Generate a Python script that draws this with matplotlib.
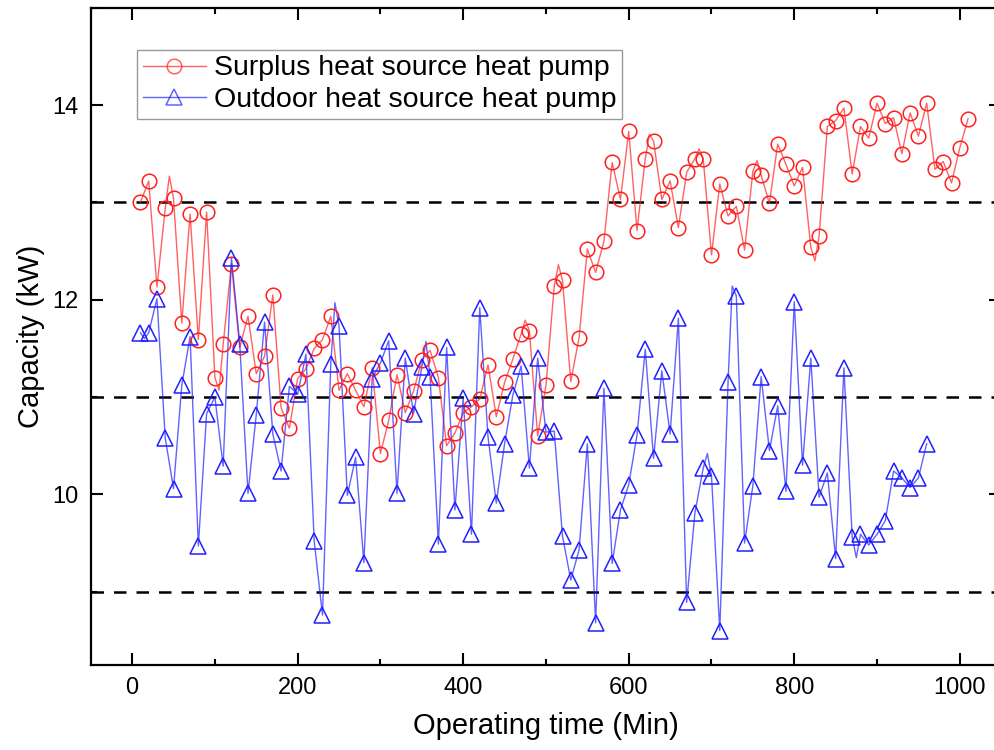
import matplotlib
matplotlib.use("Agg")
import matplotlib.pyplot as plt
from matplotlib.ticker import MultipleLocator

plt.rcParams['font.family'] = ['Liberation Sans', 'DejaVu Sans']

# ---- data ----
surplus_t = list(range(10, 1011, 10))
surplus_v = [13.00, 13.22, 12.13, 12.94, 13.04, 11.76, 12.88, 11.59, 12.90, 11.20,
             11.54, 12.37, 11.51, 11.83, 11.24, 11.42, 12.05, 10.89, 10.68, 11.19,
             11.29, 11.50, 11.59, 11.83, 11.07, 11.24, 11.07, 10.90, 11.30, 10.42,
             10.76, 11.23, 10.84, 11.06, 11.38, 11.48, 11.20, 10.50, 10.63, 10.84,
             10.90, 10.98, 11.33, 10.80, 11.15, 11.39, 11.65, 11.68, 10.60, 11.12,
             12.14, 12.20, 11.16, 11.61, 12.52, 12.28, 12.60, 13.41, 13.03, 13.73,
             12.71, 13.45, 13.63, 13.03, 13.22, 12.74, 13.31, 13.45, 13.45, 12.46,
             13.19, 12.86, 12.96, 12.51, 13.32, 13.28, 12.99, 13.60, 13.39, 13.17,
             13.36, 12.54, 12.65, 13.78, 13.84, 13.97, 13.29, 13.78, 13.66, 14.02,
             13.81, 13.87, 13.50, 13.92, 13.68, 14.02, 13.34, 13.42, 13.20, 13.56,
             13.86]
# extra line samples between markers (spikes visible in the line)
surplus_extra_t = [45, 105, 475, 515, 625, 685, 755, 825]
surplus_extra_v = [13.27, 11.07, 11.79, 12.36, 13.70, 13.55, 13.43, 12.40]

outdoor_t = list(range(10, 961, 10))
outdoor_v = [11.66, 11.66, 12.01, 10.58, 10.06, 11.12, 11.62, 9.47, 10.83, 11.00,
             10.29, 12.43, 11.55, 10.01, 10.82, 11.77, 10.62, 10.24, 11.11, 11.03,
             11.44, 9.52, 8.76, 11.34, 11.73, 9.99, 10.38, 9.30, 11.19, 11.35,
             11.58, 10.01, 11.40, 10.83, 11.31, 11.21, 9.49, 11.51, 9.84, 10.99,
             9.59, 11.92, 10.59, 9.91, 10.52, 11.02, 11.32, 10.27, 11.40, 10.64,
             10.65, 9.57, 9.12, 9.43, 10.52, 8.68, 11.09, 9.29, 9.84, 10.10,
             10.61, 11.49, 10.37, 11.27, 10.62, 11.81, 8.89, 9.81, 10.27, 10.19,
             8.60, 11.15, 12.04, 9.50, 10.09, 11.21, 10.45, 10.91, 10.03, 11.98,
             10.30, 11.40, 9.97, 10.22, 9.34, 11.30, 9.56, 9.59, 9.48, 9.59,
             9.73, 10.24, 10.17, 10.07, 10.17, 10.52]
outdoor_extra_t = [15, 245, 355, 695, 725, 875]
outdoor_extra_v = [11.60, 11.97, 11.57, 10.42, 12.14, 9.35]

ref_levels = [13, 11, 9]
labels = ["Surplus heat source heat pump", "Outdoor heat source heat pump"]
x_ticks = [0, 200, 400, 600, 800, 1000]
y_ticks = [10, 12, 14]


def merged(t, v, et, ev):
    pts = sorted(list(zip(t, v)) + list(zip(et, ev)))
    return [p[0] for p in pts], [p[1] for p in pts]


fig = plt.figure(figsize=(9.95, 7.5), dpi=100)
ax = fig.add_axes([0.0912, 0.1137, 0.915, 0.876])

for y in ref_levels:
    ax.axhline(y, color='black', lw=1.8, ls=(0, (5, 4)), zorder=1)

red = '#ff2020'
blue = '#2020ff'
lt, lv = merged(surplus_t, surplus_v, surplus_extra_t, surplus_extra_v)
ax.plot(lt, lv, color=red, lw=1.0, alpha=0.7, zorder=2)
ax.plot(surplus_t, surplus_v, ls='none', marker='o', ms=10.5, mfc='none',
        mec=red, mew=1.1, zorder=3)
lt, lv = merged(outdoor_t, outdoor_v, outdoor_extra_t, outdoor_extra_v)
ax.plot(lt, lv, color=blue, lw=1.0, alpha=0.7, zorder=2)
ax.plot(outdoor_t, outdoor_v, ls='none', marker='^', ms=11.5, mfc='none',
        mec=blue, mew=1.1, zorder=3)

# legend proxies
h1, = ax.plot([], [], color=red, lw=1.0, alpha=0.7, marker='o', ms=10.5,
              mfc='none', mec=red, mew=1.1)
h2, = ax.plot([], [], color=blue, lw=1.0, alpha=0.7, marker='^', ms=11.5,
              mfc='none', mec=blue, mew=1.1)
leg = ax.legend([h1, h2], labels, loc='upper left', bbox_to_anchor=(0.051, 0.936),
                borderaxespad=0, fontsize=20.5, frameon=True, fancybox=False,
                handlelength=2.2, handletextpad=0.3, borderpad=0.2,
                labelspacing=0.2)
leg.get_frame().set_edgecolor('#808080')
leg.get_frame().set_linewidth(1.0)

ax.set_xlim(-50, 1050)
ax.set_ylim(8.25, 15)
ax.set_xticks(x_ticks)
ax.set_yticks(y_ticks)
ax.xaxis.set_minor_locator(MultipleLocator(100))
ax.yaxis.set_minor_locator(MultipleLocator(1))
ax.tick_params(which='both', direction='in', top=True, right=True, labelsize=17,
               width=1.5)
ax.tick_params(which='major', length=8.5, pad=9)
ax.tick_params(which='minor', length=4.5)
for s in ax.spines.values():
    s.set_linewidth(1.6)

ax.set_xlabel("Operating time (Min)", fontsize=21, labelpad=9)
ax.set_ylabel("Capacity (kW)", fontsize=21, labelpad=5)

fig.savefig("out.png", dpi=100)
